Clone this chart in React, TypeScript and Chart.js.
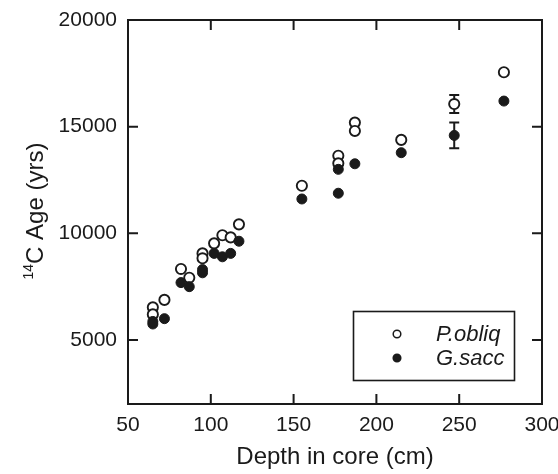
import React, { useEffect, useRef } from "react";
import { Chart, registerables } from "chart.js";

Chart.register(...registerables);

// ---- Data ----
const pObliqDepth = [65, 65, 72, 82, 87, 95, 95, 102, 107, 112, 117, 155, 177, 177, 187, 187, 215, 247, 277];
const pObliqAge = [6530, 6200, 6880, 8330, 7920, 9060, 8830, 9530, 9910, 9810, 10420, 12230, 13640, 13280, 15190, 14800, 14380, 16060, 17550];
const pObliqErr = [0, 0, 0, 0, 0, 0, 0, 0, 0, 0, 0, 0, 0, 0, 0, 0, 0, 420, 0];

const gSaccDepth = [65, 65, 72, 82, 87, 95, 95, 102, 107, 112, 117, 155, 177, 177, 187, 215, 247, 277];
const gSaccAge = [5750, 5870, 6000, 7690, 7500, 8150, 8300, 9060, 8900, 9060, 9630, 11610, 11880, 13000, 13260, 13780, 14590, 16200];
const gSaccErr = [0, 0, 0, 0, 0, 0, 0, 0, 0, 0, 0, 0, 0, 0, 0, 0, 600, 0];

const seriesNames = ["P.obliq", "G.sacc"];
const xTicks = [50, 100, 150, 200, 250, 300];
const yTicks = [5000, 10000, 15000, 20000];
const xMin = 50;
const xMax = 300;
const yMin = 2000;
const yMax = 20000;
const xTitle = "Depth in core (cm)";
const yTitleSup = "14";
const yTitleMain = "C Age (yrs)";

const FONT = "'Liberation Sans', Arial, Helvetica, sans-serif";
const INK = "#1a1a1a";

const toPoints = (xs: number[], ys: number[]) => xs.map((x, i) => ({ x, y: ys[i] }));

const errorBarPlugin = {
  id: "errorBars",
  beforeDatasetsDraw(chart: any) {
    const ctx = chart.ctx;
    const xs = chart.scales.x;
    const ys = chart.scales.y;
    const sets = [
      { d: pObliqDepth, a: pObliqAge, e: pObliqErr },
      { d: gSaccDepth, a: gSaccAge, e: gSaccErr },
    ];
    ctx.save();
    ctx.strokeStyle = INK;
    ctx.lineWidth = 2;
    sets.forEach((s) => {
      s.e.forEach((err, i) => {
        if (!err) return;
        const px = xs.getPixelForValue(s.d[i]);
        const top = ys.getPixelForValue(s.a[i] + err);
        const bot = ys.getPixelForValue(s.a[i] - err);
        ctx.beginPath();
        ctx.moveTo(px, top);
        ctx.lineTo(px, bot);
        ctx.moveTo(px - 5, top);
        ctx.lineTo(px + 5, top);
        ctx.moveTo(px - 5, bot);
        ctx.lineTo(px + 5, bot);
        ctx.stroke();
      });
    });
    ctx.restore();
  },
};

const framePlugin = {
  id: "frameTicksLegend",
  afterDraw(chart: any) {
    const ctx = chart.ctx;
    const { left, right, top, bottom } = chart.chartArea;
    const xs = chart.scales.x;
    const ys = chart.scales.y;
    const tl = 10;
    ctx.save();
    ctx.strokeStyle = INK;
    ctx.lineWidth = 2;
    ctx.strokeRect(left, top, right - left, bottom - top);
    ctx.beginPath();
    xTicks.forEach((v) => {
      const px = xs.getPixelForValue(v);
      ctx.moveTo(px, bottom);
      ctx.lineTo(px, bottom - tl);
      ctx.moveTo(px, top);
      ctx.lineTo(px, top + tl);
    });
    yTicks.forEach((v) => {
      const py = ys.getPixelForValue(v);
      ctx.moveTo(left, py);
      ctx.lineTo(left + tl, py);
      ctx.moveTo(right, py);
      ctx.lineTo(right - tl, py);
    });
    ctx.stroke();

    // Y axis title with superscript
    ctx.fillStyle = INK;
    ctx.translate(43, 211);
    ctx.rotate(-Math.PI / 2);
    ctx.textBaseline = "alphabetic";
    ctx.textAlign = "left";
    ctx.font = `14px ${FONT}`;
    const w1 = ctx.measureText(yTitleSup).width;
    ctx.font = `24px ${FONT}`;
    const w2 = ctx.measureText(yTitleMain).width;
    const start = -(w1 + w2) / 2;
    ctx.font = `14px ${FONT}`;
    ctx.fillText(yTitleSup, start, -10);
    ctx.font = `24px ${FONT}`;
    ctx.fillText(yTitleMain, start + w1, 0);
    ctx.setTransform(1, 0, 0, 1, 0, 0);

    // Legend
    ctx.lineWidth = 1.6;
    ctx.strokeRect(353.5, 311.5, 161, 69);
    const rows = [
      { name: seriesNames[0], fill: "#ffffff", y: 334 },
      { name: seriesNames[1], fill: INK, y: 358 },
    ];
    rows.forEach((r) => {
      ctx.beginPath();
      ctx.arc(397, r.y, 3.8, 0, Math.PI * 2);
      ctx.fillStyle = r.fill;
      ctx.fill();
      ctx.lineWidth = 1.5;
      ctx.strokeStyle = INK;
      ctx.stroke();
      ctx.fillStyle = INK;
      ctx.font = `italic 22px ${FONT}`;
      ctx.textBaseline = "middle";
      ctx.textAlign = "left";
      ctx.fillText(r.name, 436, r.y + 1);
    });
    ctx.restore();
  },
};

export default function App() {
  const ref = useRef<HTMLCanvasElement | null>(null);

  useEffect(() => {
    if (!ref.current) return;
    const chart = new Chart(ref.current, {
      type: "scatter",
      data: {
        datasets: [
          {
            label: seriesNames[0],
            data: toPoints(pObliqDepth, pObliqAge),
            pointStyle: "circle",
            pointRadius: 5.1,
            pointBackgroundColor: "#ffffff",
            pointBorderColor: INK,
            pointBorderWidth: 1.9,
            showLine: false,
            order: 1,
          },
          {
            label: seriesNames[1],
            data: toPoints(gSaccDepth, gSaccAge),
            pointStyle: "circle",
            pointRadius: 5.0,
            pointBackgroundColor: INK,
            pointBorderColor: INK,
            pointBorderWidth: 1,
            showLine: false,
            order: 0,
          },
        ],
      },
      options: {
        animation: false,
        responsive: false,
        events: [],
        layout: { padding: { top: 20, right: 16, left: 0, bottom: 0 } },
        plugins: {
          legend: { display: false },
          tooltip: { enabled: false },
        },
        scales: {
          x: {
            type: "linear",
            min: xMin,
            max: xMax,
            afterBuildTicks: (s: any) => {
              s.ticks = xTicks.map((v) => ({ value: v }));
            },
            afterFit: (s: any) => {
              s.height = 70;
              s.paddingLeft = 0;
              s.paddingRight = 0;
            },
            grid: { display: false, drawTicks: false },
            border: { display: false },
            ticks: {
              font: { family: FONT, size: 21 },
              color: INK,
              padding: 9,
              maxRotation: 0,
              autoSkip: false,
              callback: (v: any) => String(v),
            },
            title: {
              display: true,
              text: xTitle,
              font: { family: FONT, size: 24 },
              color: INK,
              padding: { top: 0, bottom: 2 },
            },
          },
          y: {
            type: "linear",
            min: yMin,
            max: yMax,
            afterBuildTicks: (s: any) => {
              s.ticks = yTicks.map((v) => ({ value: v }));
            },
            afterFit: (s: any) => {
              s.width = 128;
              s.paddingTop = 0;
              s.paddingBottom = 0;
            },
            grid: { display: false, drawTicks: false },
            border: { display: false },
            ticks: {
              font: { family: FONT, size: 21 },
              color: INK,
              padding: 11,
              autoSkip: false,
              callback: (v: any) => String(v),
            },
          },
        },
      },
      plugins: [errorBarPlugin, framePlugin],
    } as any);
    return () => chart.destroy();
  }, []);

  return (
    <div style={{ position: "absolute", left: 0, top: 0, width: 558, height: 474, background: "#fff" }}>
      <canvas ref={ref} width={558} height={474} style={{ display: "block" }} />
    </div>
  );
}
